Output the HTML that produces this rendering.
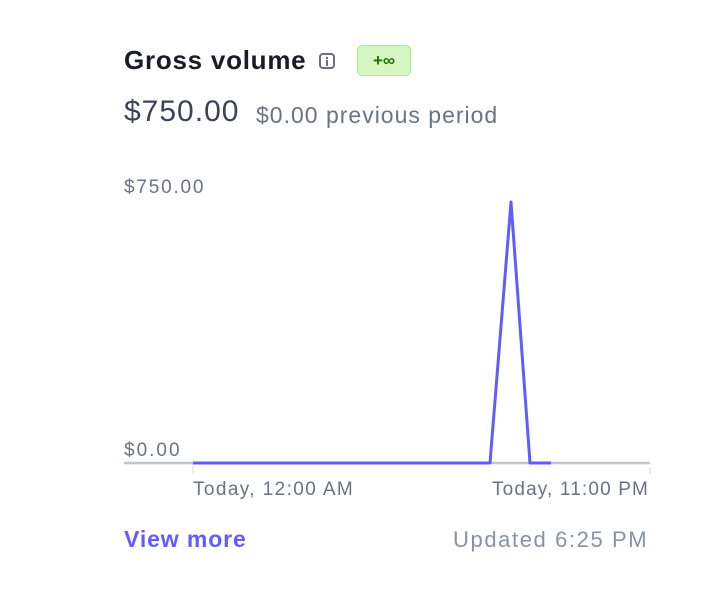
<!DOCTYPE html>
<html><head><style>
body{margin:0;width:720px;height:597px;background:#fff;font-family:"Liberation Sans",sans-serif;position:relative;overflow:hidden}
.a{position:absolute;white-space:nowrap}
</style></head><body>
<div class="a" style="left:124px;top:45px;font-size:26px;font-weight:bold;color:#1a1b25;letter-spacing:0.75px">Gross volume</div>
<div class="a" style="left:319px;top:53px;width:16px;height:16px;border:2px solid #6c7080;border-radius:4px;box-sizing:border-box"><div style="position:absolute;left:5px;top:2px;width:2px;height:2px;background:#6c7080"></div><div style="position:absolute;left:5px;top:5px;width:2px;height:6px;background:#6c7080"></div></div>
<div class="a" style="left:357px;top:45px;width:54px;height:31px;background:#d7f7c2;border:1px solid #a6eb84;border-radius:5px;box-sizing:border-box;color:#217005;font-weight:bold;font-size:17px;text-align:center;line-height:29px">+∞</div>
<div class="a" style="left:124px;top:95px;font-size:30px;color:#3c4257;letter-spacing:1px">$750.00</div>
<div class="a" style="left:256px;top:102px;font-size:23px;color:#6a7383;letter-spacing:1px">$0.00 previous period</div>
<div class="a" style="left:124px;top:177px;font-size:19px;color:#6a7383;letter-spacing:1.8px">$750.00</div>
<div class="a" style="left:124px;top:440px;font-size:19px;color:#6a7383;letter-spacing:2px">$0.00</div>
<svg class="a" style="left:0;top:0" width="720" height="597">
<line x1="124" y1="463" x2="650" y2="463" stroke="#c0c6d0" stroke-width="2.5"/>
<line x1="193" y1="467" x2="193" y2="474" stroke="#d0d4db" stroke-width="1"/>
<line x1="650" y1="467" x2="650" y2="474" stroke="#d0d4db" stroke-width="1"/>
<polyline points="193,463 490,463 511,202 530,463 551,463" fill="none" stroke="#635bff" stroke-width="3" stroke-linejoin="round"/>
</svg>
<div class="a" style="left:193px;top:479px;font-size:19px;color:#6a7383;letter-spacing:1.4px">Today, 12:00 AM</div>
<div class="a" style="left:492px;top:479px;font-size:19px;color:#6a7383;letter-spacing:1.15px">Today, 11:00 PM</div>
<div class="a" style="left:124px;top:526px;font-size:23px;font-weight:bold;color:#635bff;letter-spacing:0.9px">View more</div>
<div class="a" style="left:453px;top:527px;font-size:22px;color:#8792a2;letter-spacing:1.6px">Updated 6:25 PM</div>
</body></html>
